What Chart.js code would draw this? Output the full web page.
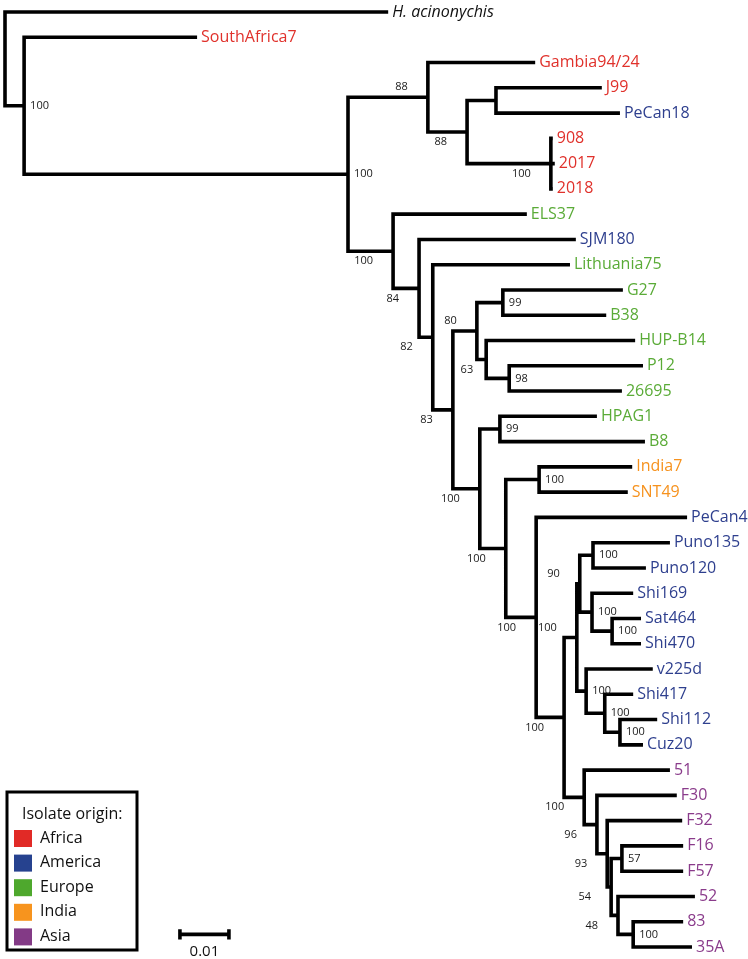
<!DOCTYPE html>
<html>
<head>
<meta charset="utf-8">
<script src="https://cdn.jsdelivr.net/npm/chart.js@4.4.1/dist/chart.umd.min.js"></script>
<style>
  html, body { margin: 0; padding: 0; background: #fff; }
  #wrap { width: 748px; height: 959px; }
</style>
</head>
<body>
<div id="wrap"><canvas id="treeChart" width="748" height="959"></canvas></div>
<script>
// Tips, top to bottom (row index = y value)
const tipNames = ['H. acinonychis', 'SouthAfrica7', 'Gambia94/24', 'J99', 'PeCan18', '908', '2017', '2018',
    'ELS37', 'SJM180', 'Lithuania75', 'G27', 'B38', 'HUP-B14', 'P12', '26695', 'HPAG1', 'B8',
    'India7', 'SNT49', 'PeCan4', 'Puno135', 'Puno120', 'Shi169', 'Sat464', 'Shi470', 'v225d',
    'Shi417', 'Shi112', 'Cuz20', '51', 'F30', 'F32', 'F16', 'F57', '52', '83', '35A'];
const tipOrigin = ['outgroup', 'Africa', 'Africa', 'Africa', 'America', 'Africa', 'Africa', 'Africa',
    'Europe', 'America', 'Europe', 'Europe', 'Europe', 'Europe', 'Europe', 'Europe', 'Europe', 'Europe',
    'India', 'India', 'America', 'America', 'America', 'America', 'America', 'America', 'America',
    'America', 'America', 'America', 'Asia', 'Asia', 'Asia', 'Asia', 'Asia', 'Asia', 'Asia', 'Asia'];
// distance from root (substitutions per site)
const tipDepth = [0.0782, 0.0392, 0.1082, 0.1218, 0.1255, 0.1118, 0.1122, 0.1118,
    0.1065, 0.1165, 0.1153, 0.1261, 0.1227, 0.1286, 0.1302, 0.1259, 0.1208, 0.1306,
    0.1280, 0.1271, 0.1392, 0.1357, 0.1308, 0.1282, 0.1298, 0.1298, 0.1322,
    0.1282, 0.1331, 0.1302, 0.1357, 0.1371, 0.1382, 0.1384, 0.1384, 0.1408, 0.1384, 0.1402];

// Internal nodes: numbers in children are tip rows, strings are other nodes
const nodeIds = ['root', 'n1', 'n2', 'n3', 'n5', 'n6', 'n7', 'n4', 'n8', 'n9', 'n10', 'n11', 'n13', 'n14',
    'n15', 'n12', 'n16', 'n17', 'n18', 'n19', 'n20', 'n21', 'n21a', 'n24', 'n25', 'n26', 'n23', 'n27',
    'n28', 'n22', 'n29', 'n30', 'n31', 'n32', 'n33', 'n34'];
const nodeChildren = [[0, 'n1'], [1, 'n2'], ['n3', 'n4'], [2, 'n5'], ['n6', 'n7'], [3, 4], [5, 6, 7],
    [8, 'n8'], [9, 'n9'], [10, 'n10'], ['n11', 'n12'], ['n13', 'n14'], [11, 12], [13, 'n15'], [14, 15],
    ['n16', 'n17'], [16, 17], ['n18', 'n19'], [18, 19], [20, 'n20'], ['n21', 'n22'], ['n21a', 'n23'],
    ['n24', 'n25'], [21, 22], [23, 'n26'], [24, 25], [26, 'n27'], [27, 'n28'], [28, 29],
    [30, 'n29'], [31, 'n30'], [32, 'n31'], ['n32', 'n33'], [33, 34], [35, 'n34'], [36, 37]];
const nodeDepth = [0, 0.0039, 0.0700, 0.0863, 0.0943, 0.1002, 0.1114, 0.0792, 0.0845, 0.0873, 0.0914,
    0.0963, 0.1016, 0.0982, 0.1029, 0.0969, 0.1010, 0.1022, 0.1090, 0.1084, 0.1141, 0.1167, 0.1173,
    0.1200, 0.1198, 0.1239, 0.1186, 0.1224, 0.1255, 0.1182, 0.1208, 0.1229, 0.1237, 0.1259, 0.1251, 0.1282];
// bootstrap support
const nodeSupport = [null, 100, 100, 88, 88, null, 100, 100, 84, 82, 83, 80, 99, 63, 98, 100, 99, 100,
    100, 100, 100, 100, 90, 100, 100, 100, 100, 100, 100, 100, 96, 93, 54, 57, 48, 100];
// where the support label sits: r = right of node, bl = below-left, b = below-left (close), al = above-left
const supportPlace = ['r', 'r', 'r', 'al', 'bl', 'r', 'bl', 'bl', 'bl', 'bl', 'bl', 'al', 'r', 'b', 'r',
    'bl', 'r', 'bl', 'r', 'bl', 'bl', 'al', 'al', 'r', 'r', 'r', 'r', 'r', 'r', 'bl', 'bl', 'bl', 'bl',
    'r', 'bl', 'r'];

const legendTitle = 'Isolate origin:';
const legendGroups = ['Africa', 'America', 'Europe', 'India', 'Asia'];
const scaleBarLength = 0.01;
const scaleBarLabel = '0.01';

const textColors = {
    outgroup: '#111111', Africa: '#e0312b', America: '#2e3f8e', Europe: '#5aab37',
    India: '#f6921e', Asia: '#8a3b8b'
};
const swatchColors = {
    Africa: '#e12a26', America: '#26428f', Europe: '#4ea82d', India: '#f7941e', Asia: '#833a86'
};

// node positions: x = depth, y = midpoint of first and last child
const nodeIndex = Object.fromEntries(nodeIds.map((id, i) => [id, i]));
const posCache = {};
function posOf(c) {
    if (typeof c === 'number') return { x: tipDepth[c], y: c };
    if (posCache[c]) return posCache[c];
    const i = nodeIndex[c];
    const kids = nodeChildren[i].map(posOf);
    posCache[c] = { x: nodeDepth[i], y: (kids[0].y + kids[kids.length - 1].y) / 2 };
    return posCache[c];
}

const gap = { x: null, y: null };
const branchPoints = [];
nodeIds.forEach((id, i) => {
    const n = posOf(id);
    const kids = nodeChildren[i].map(posOf);
    const first = kids[0], last = kids[kids.length - 1];
    branchPoints.push({ x: first.x, y: first.y }, { x: n.x, y: first.y },
        { x: n.x, y: last.y }, { x: last.x, y: last.y }, gap);
    kids.slice(1, -1).forEach(k => {
        branchPoints.push({ x: n.x, y: k.y }, { x: k.x, y: k.y }, gap);
    });
});

// scale bar in the lower left, in tree units
const sbX = 0.0357, sbY = 36.5;
const scaleBarPoints = [
    { x: sbX, y: sbY - 0.2 }, { x: sbX, y: sbY + 0.2 }, gap,
    { x: sbX, y: sbY }, { x: sbX + scaleBarLength, y: sbY }, gap,
    { x: sbX + scaleBarLength, y: sbY - 0.2 }, { x: sbX + scaleBarLength, y: sbY + 0.2 }
];

const FONT = '"Open Sans", "DejaVu Sans", sans-serif';

const treeLabels = {
    id: 'treeLabels',
    afterDatasetsDraw(chart) {
        const { ctx, scales: { x, y } } = chart;
        ctx.save();
        ctx.textBaseline = 'middle';

        // tip labels
        tipNames.forEach((name, i) => {
            const italic = tipOrigin[i] === 'outgroup';
            ctx.font = (italic ? 'italic ' : '') + '16px ' + FONT;
            ctx.fillStyle = textColors[tipOrigin[i]];
            ctx.textAlign = 'left';
            ctx.fillText(name, x.getPixelForValue(tipDepth[i]) + 4, y.getPixelForValue(i));
        });

        // bootstrap values
        ctx.font = '11px ' + FONT;
        ctx.fillStyle = '#1a1a1a';
        nodeIds.forEach((id, i) => {
            if (nodeSupport[i] == null) return;
            const p = posOf(id);
            const px = x.getPixelForValue(p.x), py = y.getPixelForValue(p.y);
            const place = supportPlace[i];
            if (place === 'r') {
                ctx.textAlign = 'left';
                ctx.fillText(nodeSupport[i], px + 6, py);
            } else if (place === 'b') {
                ctx.textAlign = 'right';
                ctx.fillText(nodeSupport[i], px - 13, py + 10);
            } else {
                ctx.textAlign = 'right';
                ctx.fillText(nodeSupport[i], px - 20, place === 'bl' ? py + 10 : py - 10);
            }
        });

        // scale bar label
        ctx.font = '15px ' + FONT;
        ctx.fillStyle = '#111';
        ctx.textAlign = 'center';
        ctx.fillText(scaleBarLabel, x.getPixelForValue(sbX + scaleBarLength / 2), y.getPixelForValue(sbY) + 17);

        // legend box
        ctx.lineWidth = 3;
        ctx.strokeStyle = '#000';
        ctx.strokeRect(7, 792, 130, 158);
        ctx.textAlign = 'left';
        ctx.font = '16px ' + FONT;
        ctx.fillText(legendTitle, 22, 814);
        legendGroups.forEach((g, i) => {
            const ry = 838 + i * 24.6;
            ctx.fillStyle = swatchColors[g];
            ctx.fillRect(14, ry - 8, 18, 17);
            ctx.fillStyle = '#111';
            ctx.fillText(g, 40, ry);
        });
        ctx.restore();
    }
};

const chart = new Chart(document.getElementById('treeChart'), {
    type: 'scatter',
    data: {
        datasets: [{
            label: 'Branches',
            data: branchPoints,
            showLine: true,
            spanGaps: false,
            borderColor: '#000',
            borderWidth: 3.6,
            borderJoinStyle: 'miter',
            pointRadius: 0,
            clip: false
        }, {
            label: 'Scale',
            data: scaleBarPoints,
            showLine: true,
            spanGaps: false,
            borderColor: '#000',
            borderWidth: 3.6,
            pointRadius: 0,
            clip: false
        }]
    },
    options: {
        responsive: false,
        animation: false,
        layout: { padding: 0 },
        plugins: {
            legend: { display: false },
            tooltip: { enabled: false }
        },
        scales: {
            x: { type: 'linear', display: false, min: -5 / 4900, max: 743 / 4900 },
            y: { type: 'linear', display: false, reverse: true, min: -0.475, max: 37.475 }
        }
    },
    plugins: [treeLabels]
});
</script>
</body>
</html>
